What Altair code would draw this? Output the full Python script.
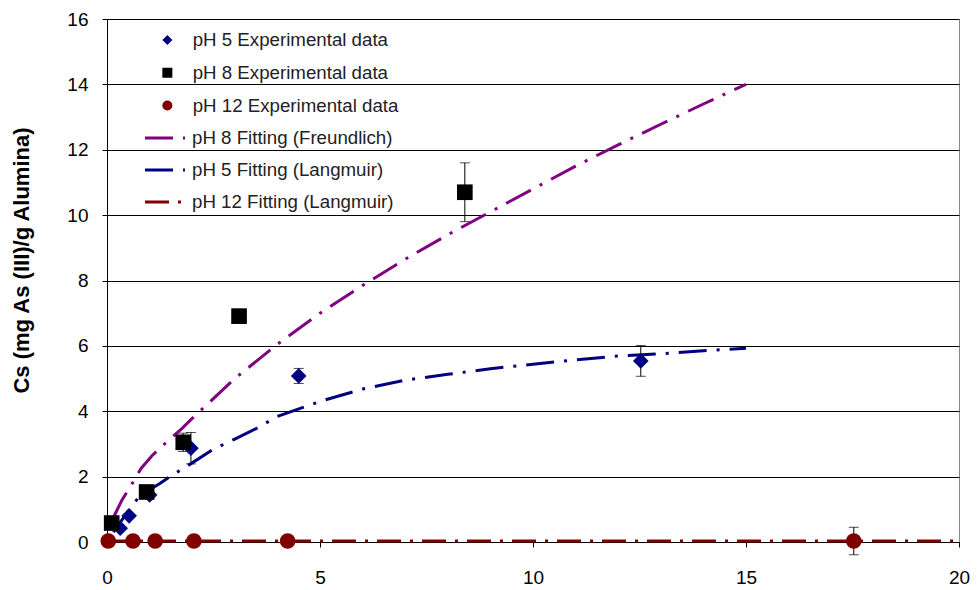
import altair as alt
import pandas as pd

ph5_x = [0.31, 0.52, 1.0, 1.97, 4.5, 12.53]
ph5_y = [0.42, 0.8, 1.44, 2.87, 5.08, 5.54]
ph5_err = [0.0, 0.0, 0.0, 0.48, 0.23, 0.47]

ph8_x = [0.11, 0.93, 1.79, 3.1, 8.4]
ph8_y = [0.58, 1.53, 3.05, 6.91, 10.7]
ph8_err = [0.0, 0.0, 0.28, 0.2, 0.9]

ph12_x = [0.03, 0.61, 1.13, 2.04, 4.24, 17.53]
ph12_y = [0.03, 0.03, 0.03, 0.03, 0.03, 0.03]
ph12_err = [0.0, 0.0, 0.0, 0.0, 0.0, 0.42]

# ---- fitted curves ----
fit8_x = [0.15, 0.35, 0.55, 0.8, 1.05, 1.3, 1.75, 2, 3, 4, 5, 6, 7, 8, 9, 10, 11, 12, 13, 14, 15]
fit8_y = [0.75, 1.28, 1.7, 2.25, 2.63, 2.94, 3.46, 3.78, 5.0, 6.05, 7.0, 7.85, 8.65, 9.4, 10.1,
          10.8, 11.5, 12.15, 12.78, 13.4, 14.0]

fit5_x = [0.15, 0.5, 0.75, 1, 1.25, 1.5, 2, 2.5, 3, 3.5, 4, 5, 6, 7, 8, 9, 10, 11, 12, 13, 14, 15]
fit5_y = [0.3, 0.95, 1.38, 1.6, 1.8, 2.02, 2.42, 2.84, 3.15, 3.47, 3.84, 4.3, 4.68, 4.95, 5.13,
          5.3, 5.44, 5.57, 5.69, 5.76, 5.85, 5.93]

fit12_x = [0, 20]
fit12_y = [0.03, 0.03]

pt_names = ["pH 5 Experimental data", "pH 8 Experimental data", "pH 12 Experimental data"]
fit_names = ["pH 8 Fitting (Freundlich)", "pH 5 Fitting (Langmuir)", "pH 12 Fitting (Langmuir)"]

pts = pd.concat([
    pd.DataFrame({"series": pt_names[0], "x": ph5_x, "y": ph5_y, "err": ph5_err}),
    pd.DataFrame({"series": pt_names[1], "x": ph8_x, "y": ph8_y, "err": ph8_err}),
    pd.DataFrame({"series": pt_names[2], "x": ph12_x, "y": ph12_y, "err": ph12_err}),
], ignore_index=True)
pts["lo"] = pts["y"] - pts["err"]
pts["hi"] = pts["y"] + pts["err"]
errs = pts[pts["err"] > 0].copy()
caps = pd.concat([
    errs[["x", "lo"]].rename(columns={"lo": "yc"}),
    errs[["x", "hi"]].rename(columns={"hi": "yc"}),
], ignore_index=True)

fits = pd.concat([
    pd.DataFrame({"fit": fit_names[0], "x": fit8_x, "y": fit8_y, "o": range(len(fit8_x))}),
    pd.DataFrame({"fit": fit_names[1], "x": fit5_x, "y": fit5_y, "o": range(len(fit5_x))}),
    pd.DataFrame({"fit": fit_names[2], "x": fit12_x, "y": fit12_y, "o": range(len(fit12_x))}),
], ignore_index=True)

FONT = "Liberation Sans"

xscale = alt.Scale(domain=[0, 20], nice=False, zero=False)
yscale = alt.Scale(domain=[0, 16], nice=False)

xaxis = alt.Axis(values=[0, 5, 10, 15, 20], grid=False, tickSize=5, labelFontSize=19,
                 labelFont=FONT, labelColor="black", labelPadding=21, labelFlush=False,
                 domainColor="black", tickColor="black", title=None)
yaxis = alt.Axis(values=list(range(0, 17, 2)), grid=True, gridColor="black", gridWidth=1,
                 tickSize=5, labelFontSize=19, labelFont=FONT, labelColor="black",
                 labelPadding=14, labelFlush=False, domainColor="black", tickColor="black",
                 title="Cs (mg As (III)/g Alumina)", titleFont=FONT, titleFontSize=22,
                 titleFontWeight="bold", titleColor="black", titleX=-86, titleY=241,
                 titleAngle=270, titleAlign="center", titleBaseline="middle")

base_x = alt.X("x:Q", scale=xscale, axis=xaxis)
base_y = alt.Y("y:Q", scale=yscale, axis=yaxis)

err_rules = alt.Chart(errs).mark_rule(color="black", strokeWidth=1).encode(
    x=alt.X("x:Q", scale=xscale),
    y=alt.Y("lo:Q", scale=yscale),
    y2="hi:Q",
)
err_caps = alt.Chart(caps).mark_tick(color="black", orient="horizontal", size=10,
                                     thickness=1).encode(
    x=alt.X("x:Q", scale=xscale),
    y=alt.Y("yc:Q", scale=yscale),
)

line_legend = alt.Legend(orient="none", legendX=36.5, legendY=97.5, title=None,
                         labelFontSize=18.7, labelFont=FONT, labelColor="#222",
                         labelLimit=600, symbolType="stroke", symbolSize=1600,
                         symbolStrokeWidth=3, rowPadding=-11.3, labelOffset=5.5, padding=0)

lines = alt.Chart(fits).mark_line(strokeWidth=3).encode(
    x=base_x,
    y=base_y,
    order="o:Q",
    color=alt.Color("fit:N", scale=alt.Scale(domain=fit_names,
                                             range=["#800080", "#000080", "#800000"]),
                    legend=line_legend),
    strokeDash=alt.StrokeDash("fit:N", scale=alt.Scale(domain=fit_names,
                                                      range=[[28, 10, 3, 10], [28, 10, 3, 10],
                                                             [24, 9, 3, 9]]),
                              legend=line_legend),
)

pt_legend = alt.Legend(orient="none", legendX=51, legendY=11.6, title=None, labelFontSize=18.7,
                       labelFont=FONT, labelColor="#222", labelLimit=600, symbolSize=100,
                       rowPadding=12.8, labelOffset=16, padding=0, symbolStrokeWidth=0)

points = alt.Chart(pts).mark_point(filled=True, opacity=1, size=245).encode(
    x=base_x,
    y=base_y,
    color=alt.Color("series:N", scale=alt.Scale(domain=pt_names,
                                                range=["#000080", "#000000", "#800000"]),
                    legend=pt_legend),
    shape=alt.Shape("series:N", scale=alt.Scale(domain=pt_names,
                                                range=["diamond", "square", "circle"]),
                    legend=pt_legend),
)

chart = alt.layer(err_rules, err_caps, lines, points).resolve_scale(
    color="independent", shape="independent", strokeDash="independent"
).properties(
    width=852, height=523,
    autosize=alt.AutoSizeParams(type="none"),
    padding={"left": 107, "top": 19, "right": 18, "bottom": 48},
    background="white",
).configure_view(stroke="#888888", strokeWidth=1)

chart.save("out.html", embed_options={"renderer": "svg", "actions": False})
